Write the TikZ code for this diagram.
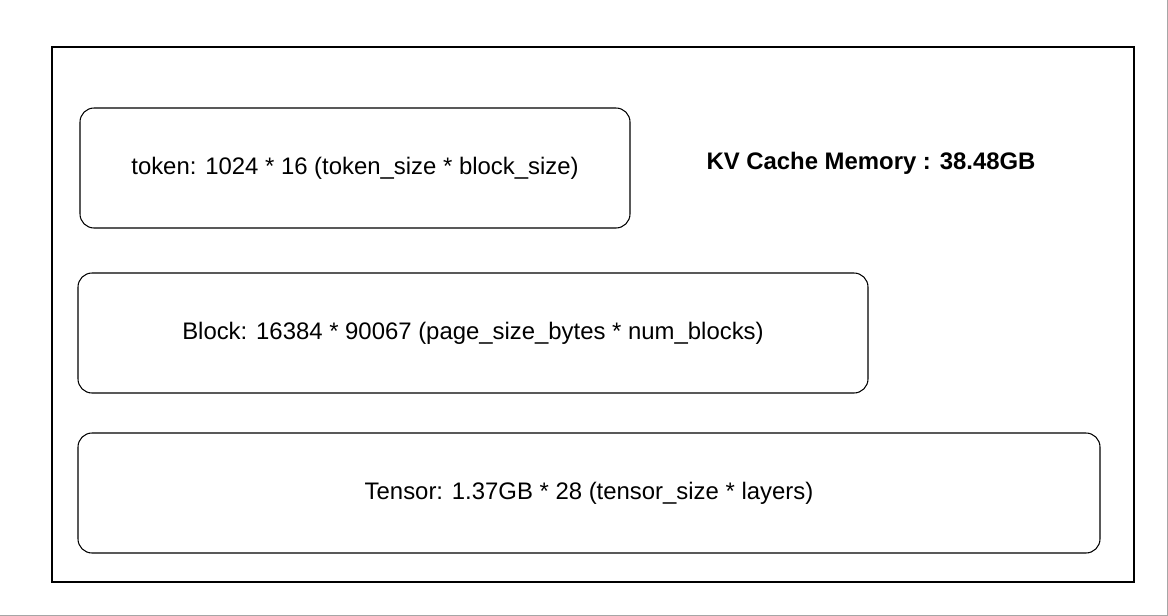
\documentclass[tikz,border=0pt]{standalone}
\usepackage{fontspec}
\setmainfont{Liberation Sans}
\begin{document}
\begin{tikzpicture}[
        x=0.03cm, y=-0.03cm,
        frame/.style={draw=black, line width=0.9pt},
        part/.style={draw=black, line width=0.9pt, rounded corners=12pt, minimum height=120*0.03cm, font=\fontsize{20.4}{24}\selectfont},
        title/.style={font=\fontsize{20.4}{24}\selectfont\bfseries}
    ]
    \useasboundingbox (0,0) rectangle (1168,616);
    
    % outer frame
    \node[frame, minimum width=1082*0.03cm, minimum height=535*0.03cm, inner sep=0pt] (mem) at (593,314.5) {};
    \node[title] (kv) at (871,163) {KV Cache Memory : 38.48GB};
    
    % parts
    \node[part, minimum width=550*0.03cm] (tok) at (355,168) {token: 1024 * 16 (token\_size * block\_size)};
    \node[part, minimum width=790*0.03cm] (blk) at (473,333) {Block: 16384 * 90067 (page\_size\_bytes * num\_blocks)};
    \node[part, minimum width=1022*0.03cm] (ten) at (589,493) {Tensor: 1.37GB * 28 (tensor\_size * layers)};
    
    \draw[gray!70, line width=0.8pt] (0,615) -- (1168,615);
    \draw[gray!70, line width=0.8pt] (1167,0) -- (1167,616);
\end{tikzpicture}
\end{document}
